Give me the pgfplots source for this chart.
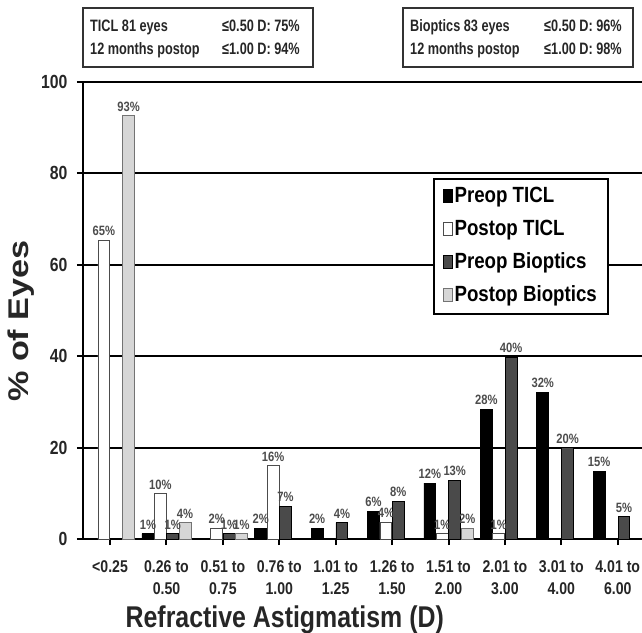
\documentclass[border=0pt]{standalone}
\usepackage{pgfplots}
\pgfplotsset{compat=1.18}
\usepackage{pgfplotstable}
\usepackage{fontspec}
\setmainfont{Liberation Sans}
\newfontfamily\nf{Liberation Sans}[FakeStretch=0.83]
\newfontfamily\bxf{Liberation Sans}[FakeStretch=0.77]
\newfontfamily\lf{Liberation Sans}[FakeStretch=0.85]
\newfontfamily\yf{Liberation Sans}[FakeStretch=1.2]

\definecolor{darkbar}{HTML}{4A4A4A}
\definecolor{lightbar}{HTML}{D6D6D6}

% Preop TICL
\pgfplotstableread{
x y l
1 1.2 1
3 2.4 2
4 2.4 2
5 6.1 6
6 12.2 12
7 28.4 28
8 32.1 32
9 14.8 15
}\preopticl
% Postop TICL
\pgfplotstableread{
x y l
0 65.4 65
1 9.9 10
2 2.4 2
3 16.0 16
5 3.7 4
6 1.2 1
7 1.2 1
}\postopticl
% Preop Bioptics
\pgfplotstableread{
x y l
1 1.2 1
2 1.2 1
3 7.2 7
4 3.6 4
5 8.2 8
6 12.9 13
7 39.8 40
8 20.0 20
9 4.9 5
}\preopbio
% Postop Bioptics
\pgfplotstableread{
x y l
0 92.6 93
1 3.6 4
2 1.2 1
6 2.4 2
}\postopbio

\begin{document}
\begin{tikzpicture}
\path[use as bounding box] (0,0) rectangle (642bp,633bp);
\begin{axis}[
  at={(83bp,94bp)}, anchor=south west,
  scale only axis, width=559bp, height=457bp,
  xmin=-0.48, xmax=9.43, ymin=0, ymax=100,
  axis lines=left,
  axis line style={-, line width=2.4bp, black},
  clip=false,
  xtick={0,...,9},
  xticklabels={{<0.25},{0.26 to\\0.50},{0.51 to\\0.75},{0.76 to\\1.00},{1.01 to\\1.25},{1.26 to\\1.50},{1.51 to\\2.00},{2.01 to\\3.00},{3.01 to\\4.00},{4.01 to\\6.00}},
  ytick={0,20,...,100},
  ymajorgrids,
  grid style={black, line width=2bp},
  major tick length=6bp,
  tick align=outside,
  tick style={black, line width=2bp},
  /pgf/number format/assume math mode=true,
  xticklabel style={align=center, font=\nf\bfseries\fontsize{17bp}{22bp}\selectfont, yshift=-12bp, text=black!85},
  yticklabel style={font=\nf\bfseries\fontsize{19bp}{20bp}\selectfont, xshift=-6bp, text=black!85},
  xlabel={Refractive Astigmatism (D)},
  ylabel={\% of Eyes},
  every axis x label/.style={at={(axis description cs:0.361,-0.177)}, anchor=center, font=\nf\bfseries\fontsize{30bp}{34bp}\selectfont, text=black!85},
  every axis y label/.style={at={(axis description cs:-0.11,0.477)}, anchor=center, rotate=90, font=\yf\bfseries\fontsize{28.5bp}{32bp}\selectfont, text=black!85},
  point meta=explicit symbolic,
  nodes near coords={\pgfplotspointmeta\%},
  nodes near coords align={vertical},
  every node near coord/.append style={font=\nf\bfseries\fontsize{13.5bp}{15bp}\selectfont, text=black!70, inner sep=1bp, yshift=3bp},
  legend style={at={(0.626,0.79)}, anchor=north west, draw=black, line width=2bp,
    font=\lf\bfseries\fontsize{22bp}{24bp}\selectfont,
    inner xsep=9bp, inner ysep=6bp, row sep=9bp,
    nodes={inner sep=2bp, text height=16bp, text depth=4bp}},
  legend cell align=left,
  legend image code/.code={\draw[#1, line width=0.6bp] (0bp,-5bp) rectangle (9bp,8bp);},
]
\addplot[ybar, bar width=0.21, bar shift=-0.33, fill=black, draw=black, line width=0.8bp,
  every node near coord/.append style={xshift=-18.6bp}] table[x=x, y=y, meta=l] {\preopticl};
\addplot[ybar, bar width=0.21, bar shift=-0.11, fill=white, draw=black!70, line width=0.8bp,
  every node near coord/.append style={xshift=-6.2bp}] table[x=x, y=y, meta=l] {\postopticl};
\addplot[ybar, bar width=0.21, bar shift=0.11, fill=darkbar, draw=black, line width=0.8bp,
  every node near coord/.append style={xshift=6.2bp}] table[x=x, y=y, meta=l] {\preopbio};
\addplot[ybar, bar width=0.21, bar shift=0.33, fill=lightbar, draw=black!55, line width=0.8bp,
  every node near coord/.append style={xshift=18.6bp}] table[x=x, y=y, meta=l] {\postopbio};
\legend{Preop TICL, Postop TICL, Preop Bioptics, Postop Bioptics}
\end{axis}
% header boxes
\draw[line width=1.8bp, black!80] (83bp,566bp) rectangle (313bp,625bp);
\draw[line width=1.8bp, black!80] (403bp,566bp) rectangle (633bp,625bp);
\begin{scope}[every node/.style={font=\bxf\bfseries\fontsize{16.5bp}{18bp}\selectfont, inner sep=0pt, text=black!85}]
\node[anchor=base west] at (90bp,601bp) {TICL 81 eyes};
\node[anchor=base west] at (90bp,578bp) {12 months postop};
\node[anchor=base east] at (300bp,601bp) {≤0.50 D: 75\%};
\node[anchor=base east] at (300bp,578bp) {≤1.00 D: 94\%};
\node[anchor=base west] at (410bp,601bp) {Bioptics 83 eyes};
\node[anchor=base west] at (410bp,578bp) {12 months postop};
\node[anchor=base east] at (622bp,601bp) {≤0.50 D: 96\%};
\node[anchor=base east] at (622bp,578bp) {≤1.00 D: 98\%};
\end{scope}
\end{tikzpicture}
\end{document}
